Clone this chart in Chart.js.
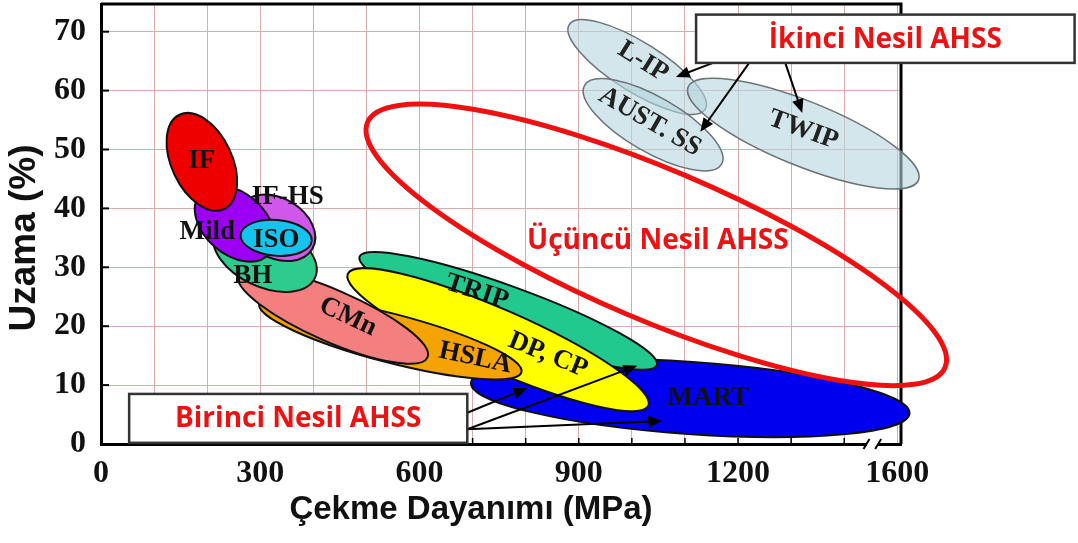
<!DOCTYPE html>
<html>
<head>
<meta charset="utf-8">
<script src="https://cdn.jsdelivr.net/npm/chart.js@4.4.1/dist/chart.umd.min.js"></script>
<style>
    html, body { margin: 0; padding: 0; background: #fff; }
    #wrap { width: 1078px; height: 543px; }
</style>
</head>
<body>
<div id="wrap"><canvas id="c"></canvas></div>
<script>
// Steel families, drawn back to front.
// Each one is an ellipse: centre and one end of its long axis (MPa, %), plus short/long axis ratio.
const regionNames = ["MART", "TRIP", "DP, CP", "HSLA", "CMn", "BH", "IF-HS", "Mild", "ISO", "IF", "L-IP", "AUST. SS", "TWIP"];
const centreMPa   = [1110, 767, 748, 545, 437, 309, 330, 252, 330, 190, 1010, 1040, 1323];
const centreElong = [7.8, 22.6, 17.7, 18.0, 21.7, 32.1, 36.7, 37.4, 35.0, 47.9, 64.0, 54.2, 52.7];
const tipMPa      = [1523, 1047, 1031, 792, 615, 403, 398, 317, 397, 232, 1138, 1169, 1540];
const tipElong    = [5.2, 13.4, 6.5, 12.2, 14.7, 28.2, 33.1, 32.3, 34.5, 39.9, 56.8, 47.5, 44.8];
const widthRatio  = [0.164, 0.155, 0.185, 0.18, 0.25, 0.58, 0.71, 0.67, 0.5, 0.58, 0.31, 0.35, 0.26];

// where each name is written
const labelMPa   = [1144, 708, 842, 705, 465, 286, 352, 200, 330, 190, 1021, 1034, 1323];
const labelElong = [7.8, 25.8, 15.1, 14.6, 21.6, 28.5, 42.0, 36.0, 34.7, 48.0, 64.9, 54.7, 53.3];

// third generation target zone
const thirdGenCentre = [1046, 33.8];
const thirdGenTip = [1590, 13.0];
const thirdGenRatio = 0.24;

// arrows from the captions
const arrowFromMPa   = [1153, 1221, 1289, 690, 690, 690];
const arrowFromElong = [64.7, 64.7, 64.7, 5.3, 2.5, 2.5];
const arrowToMPa     = [1083, 1129, 1321, 803, 1010, 1057];
const arrowToElong   = [62.3, 53.0, 56.2, 9.5, 13.3, 3.9];

// captions
const noteTexts = ["İkinci Nesil AHSS", "Birinci Nesil AHSS", "Üçüncü Nesil AHSS"];
const noteMPa   = [[1121, 1834], [53, 690], [1049, 1049]];
const noteElong = [[72.9, 64.7], [8.5, 0.2], [34.7, 34.7]];

const xTicks = [0, 100, 200, 300, 400, 500, 600, 700, 800, 900, 1000, 1100, 1200, 1300, 1400, 1500];
const xTickLabels = { 0: "0", 300: "300", 600: "600", 900: "900", 1200: "1200", 1500: "1600" };
const yTicks = [0, 10, 20, 30, 40, 50, 60, 70];
const xTitle = "Çekme Dayanımı (MPa)";
const yTitle = "Uzama (%)";

// styles
const fillColors = ["#0000ee", "#22c98f", "#ffff00", "#f5a300", "#f47f7f", "#2ecb8e", "#cf58ea",
    "#9b00f5", "#14c4ee", "#ee0000",
    "rgba(180,213,222,0.6)", "rgba(180,213,222,0.6)", "rgba(180,213,222,0.6)"];
const labelAngles = [0, 18, 22, 12, 25, 0, 0, 0, 0, 0, 32, 30, 20];
const RED = "#ee1111";
const GRID_COLOR = "#dcaaaa";

function ellipsePath(ctx, cx, cy, tx, ty, ratio) {
    const a = Math.hypot(tx - cx, ty - cy);
    ctx.beginPath();
    ctx.ellipse(cx, cy, a, a * ratio, Math.atan2(ty - cy, tx - cx), 0, Math.PI * 2);
}

function arrow(ctx, x1, y1, x2, y2) {
    const ang = Math.atan2(y2 - y1, x2 - x1);
    const head = 15;
    ctx.beginPath();
    ctx.moveTo(x1, y1);
    ctx.lineTo(x2 - Math.cos(ang) * head * 0.8, y2 - Math.sin(ang) * head * 0.8);
    ctx.stroke();
    ctx.beginPath();
    ctx.moveTo(x2, y2);
    ctx.lineTo(x2 - head * Math.cos(ang - 0.4), y2 - head * Math.sin(ang - 0.4));
    ctx.lineTo(x2 - head * Math.cos(ang + 0.4), y2 - head * Math.sin(ang + 0.4));
    ctx.closePath();
    ctx.fill();
}

const framePlugin = {
    id: "frame",
    beforeDatasetsDraw(chart) {
        const { ctx, chartArea: area, scales: { x, y } } = chart;
        ctx.save();
        ctx.strokeStyle = "#000";
        ctx.lineWidth = 3;
        ctx.beginPath();
        ctx.moveTo(area.left, area.top);
        ctx.lineTo(area.right, area.top);
        ctx.lineTo(area.right, area.bottom);
        ctx.stroke();
        // inward tick marks
        ctx.lineWidth = 2;
        yTicks.slice(1).forEach((v) => {
            const py = y.getPixelForValue(v);
            ctx.beginPath();
            ctx.moveTo(area.left, py);
            ctx.lineTo(area.left + 8, py);
            ctx.stroke();
        });
        ctx.lineWidth = 1.5;
        xTicks.slice(1, -1).forEach((v) => {
            const px = x.getPixelForValue(v);
            ctx.beginPath();
            ctx.moveTo(px, area.bottom);
            ctx.lineTo(px, area.bottom - 6);
            ctx.stroke();
        });
        // axis break
        const b1 = x.getPixelForValue(1442);
        const b2 = x.getPixelForValue(1464);
        ctx.fillStyle = "#fff";
        ctx.fillRect(b1, area.bottom - 3, b2 - b1, 6);
        ctx.lineWidth = 2;
        [b1, b2].forEach((px) => {
            ctx.beginPath();
            ctx.moveTo(px - 3, area.bottom + 5);
            ctx.lineTo(px + 3, area.bottom - 5);
            ctx.stroke();
        });
        ctx.restore();
    },
    afterDatasetsDraw(chart) {
        const { ctx, chartArea: area, scales: { x, y } } = chart;
        ctx.save();
        regionNames.forEach((name, i) => {
            const second = i >= 10;
            ellipsePath(ctx,
                x.getPixelForValue(centreMPa[i]), y.getPixelForValue(centreElong[i]),
                x.getPixelForValue(tipMPa[i]), y.getPixelForValue(tipElong[i]), widthRatio[i]);
            ctx.fillStyle = fillColors[i];
            ctx.fill();
            ctx.lineWidth = second ? 1.5 : 2;
            ctx.strokeStyle = second ? "#6b7378" : "#111";
            ctx.stroke();
        });
        ctx.textAlign = "center";
        ctx.textBaseline = "middle";
        regionNames.forEach((name, i) => {
            ctx.save();
            ctx.translate(x.getPixelForValue(labelMPa[i]), y.getPixelForValue(labelElong[i]));
            ctx.rotate(labelAngles[i] * Math.PI / 180);
            ctx.font = 'bold 27px "Liberation Serif", serif';
            ctx.fillStyle = i >= 10 ? "#222" : "#111";
            ctx.fillText(name, 0, 0);
            ctx.restore();
        });

        // third generation zone
        ellipsePath(ctx,
            x.getPixelForValue(thirdGenCentre[0]), y.getPixelForValue(thirdGenCentre[1]),
            x.getPixelForValue(thirdGenTip[0]), y.getPixelForValue(thirdGenTip[1]), thirdGenRatio);
        ctx.lineWidth = 5;
        ctx.strokeStyle = RED;
        ctx.stroke();

        // arrows
        ctx.strokeStyle = "#000";
        ctx.fillStyle = "#000";
        ctx.lineWidth = 2;
        arrowFromMPa.forEach((v, i) => {
            arrow(ctx, x.getPixelForValue(v), y.getPixelForValue(arrowFromElong[i]),
                x.getPixelForValue(arrowToMPa[i]), y.getPixelForValue(arrowToElong[i]));
        });

        // captions
        noteTexts.forEach((text, i) => {
            const l = x.getPixelForValue(noteMPa[i][0]);
            const r = x.getPixelForValue(noteMPa[i][1]);
            const t = y.getPixelForValue(noteElong[i][0]);
            const b = y.getPixelForValue(noteElong[i][1]);
            if (r - l > 1) {
                ctx.fillStyle = "#fff";
                ctx.fillRect(l, t, r - l, b - t);
                ctx.lineWidth = 2.5;
                ctx.strokeStyle = "#333";
                ctx.strokeRect(l, t, r - l, b - t);
            }
            ctx.fillStyle = RED;
            ctx.font = 'bold 28px "Open Sans", "Noto Sans", sans-serif';
            ctx.fillText(text, (l + r) / 2, (t + b) / 2 + 1);
        });

        // axis titles (the source figure has them off the axis centre)
        ctx.fillStyle = "#111";
        ctx.font = 'bold 33px "Liberation Sans", sans-serif';
        ctx.fillText(xTitle, (area.left + area.right) / 2 - 30, area.bottom + 66);
        ctx.save();
        ctx.translate(area.left - 76, (area.top + area.bottom) / 2 + 14);
        ctx.rotate(-Math.PI / 2);
        ctx.font = 'bold 37px "Liberation Sans", sans-serif';
        ctx.fillText(yTitle, 0, 0);
        ctx.restore();
        ctx.restore();
    },
};

new Chart(document.getElementById("c"), {
    type: "scatter",
    data: {
        datasets: [
            {
                label: "Çelik sınıfları",
                data: regionNames.map((n, i) => ({ x: centreMPa[i], y: centreElong[i] })),
                pointRadius: 0,
                pointHoverRadius: 0,
            },
        ],
    },
    options: {
        responsive: true,
        maintainAspectRatio: false,
        animation: false,
        layout: { padding: { left: 0, right: 177, top: 4, bottom: 0 } },
        plugins: {
            legend: { display: false },
            tooltip: { enabled: false },
        },
        scales: {
            x: {
                type: "linear",
                min: 0,
                max: 1507,
                afterBuildTicks: (scale) => {
                    scale.ticks = xTicks.map((v) => ({ value: v }));
                },
                afterFit: (scale) => {
                    scale.height = 99;
                    scale.paddingLeft = 0;
                    scale.paddingRight = 0;
                },
                grid: { color: GRID_COLOR, lineWidth: 1, drawTicks: false },
                border: { color: "#000", width: 3 },
                ticks: {
                    autoSkip: false,
                    maxRotation: 0,
                    padding: 11,
                    color: "#111",
                    font: { family: "Liberation Serif", size: 32, weight: "bold" },
                    callback: (v) => xTickLabels[v] || "",
                },
                title: { display: false, text: xTitle },
            },
            y: {
                type: "linear",
                min: 0,
                max: 74.7,
                afterBuildTicks: (scale) => {
                    scale.ticks = yTicks.map((v) => ({ value: v }));
                },
                afterFit: (scale) => {
                    scale.width = 101;
                    scale.paddingTop = 0;
                    scale.paddingBottom = 0;
                },
                grid: { color: GRID_COLOR, lineWidth: 1, drawTicks: false },
                border: { color: "#000", width: 3 },
                ticks: {
                    padding: 15,
                    color: "#111",
                    font: { family: "Liberation Serif", size: 32, weight: "bold" },
                },
                title: { display: false, text: yTitle },
            },
        },
    },
    plugins: [framePlugin],
});
</script>
</body>
</html>
